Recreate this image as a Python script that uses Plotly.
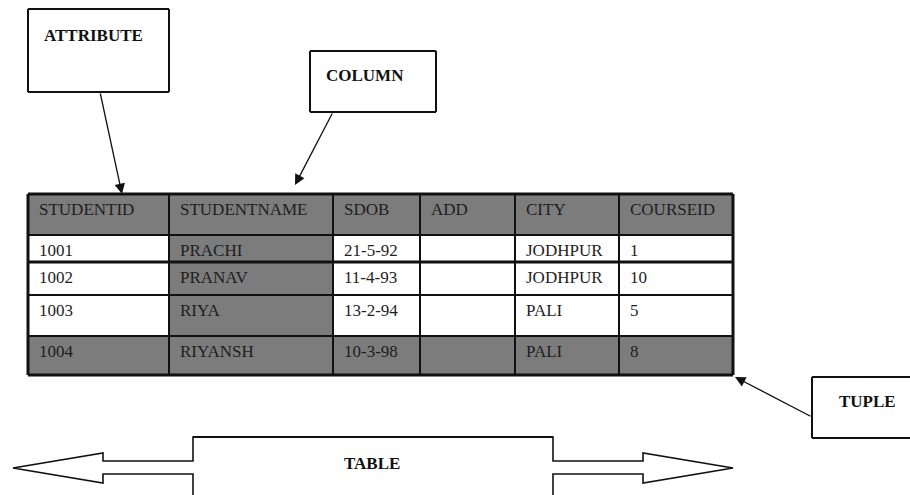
import plotly.graph_objects as go

# ---------------- data ----------------
headers = ["STUDENTID", "STUDENTNAME", "SDOB", "ADD", "CITY", "COURSEID"]
student_id = ["1001", "1002", "1003", "1004"]
student_name = ["PRACHI", "PRANAV", "RIYA", "RIYANSH"]
sdob = ["21-5-92", "11-4-93", "13-2-94", "10-3-98"]
add = ["", "", "", ""]
city = ["JODHPUR", "JODHPUR", "PALI", "PALI"]
course_id = ["1", "10", "5", "8"]
callout_labels = ["ATTRIBUTE", "COLUMN", "TUPLE"]
table_label = "TABLE"

# ---------------- layout geometry ----------------
W, H = 910, 495
col_edges = [28, 169, 333, 420, 515, 619, 733]
row_edges = [194, 235, 262, 295, 336, 375]
GRAY = "#7c7c7c"
TXT = "#1e1e1e"
FONT = "Liberation Serif, Times New Roman, serif"

columns = [student_id, student_name, sdob, add, city, course_id]
rows = [headers] + [[c[i] for c in columns] for i in range(len(student_id))]
n_rows = len(rows)
n_cols = len(headers)

def cell_fill(r, c):
    if r == 0 or r == n_rows - 1 or c == 1:
        return GRAY
    return "white"

fig = go.Figure()
# invisible trace to set up axes
fig.add_trace(go.Scatter(x=[W / 2], y=[H / 2], mode="markers",
                         marker=dict(opacity=0, size=1), hoverinfo="skip", showlegend=False))

shapes = []
annotations = []

def hline(x0, x1, y, w):
    shapes.append(dict(type="line", xref="x", yref="y", x0=x0, x1=x1, y0=y, y1=y,
                       line=dict(color="#111111", width=w)))

def vline(x, y0, y1, w):
    shapes.append(dict(type="line", xref="x", yref="y", x0=x, x1=x, y0=y0, y1=y1,
                       line=dict(color="#111111", width=w)))

# cells
for r in range(n_rows):
    for c in range(n_cols):
        shapes.append(dict(type="rect", xref="x", yref="y",
                           x0=col_edges[c], x1=col_edges[c + 1],
                           y0=row_edges[r], y1=row_edges[r + 1],
                           fillcolor=cell_fill(r, c), line=dict(width=0), layer="below"))
        txt = rows[r][c]
        if txt:
            annotations.append(dict(x=col_edges[c] + 9, y=row_edges[r] + 15,
                                    xref="x", yref="y", text=txt, showarrow=False,
                                    xanchor="left", yanchor="middle",
                                    font=dict(family=FONT, size=17, color=TXT)))
# grid lines
for i, y in enumerate(row_edges):
    hline(col_edges[0], col_edges[-1], y, 3 if i in (0, 2, len(row_edges) - 1) else 2)
for i, x in enumerate(col_edges):
    vline(x, row_edges[0], row_edges[-1], 3 if i in (0, len(col_edges) - 1) else 2)

# callout boxes (the TUPLE box runs off the right edge, so it is left open there)
boxes = [(28, 9, 169, 92), (310, 51, 436, 112), (812, 377, 910, 438)]
label_pos = [(42, 35), (324, 75), (837, 401)]
for (x0, y0, x1, y1), (tx, ty), lab in zip(boxes, label_pos, callout_labels):
    hline(x0, x1, y0, 2)
    hline(x0, x1, y1, 2)
    vline(x0, y0, y1, 2)
    if x1 < W:
        vline(x1, y0, y1, 2)
    annotations.append(dict(x=tx, y=ty, xref="x", yref="y", text="<b>" + lab + "</b>",
                            showarrow=False, xanchor="left", yanchor="middle",
                            font=dict(family=FONT, size=17, color="#111111")))

# pointer arrows (tail -> head)
arrows = [((100, 92), (122, 194)), ((333, 112), (295, 185)), ((812, 417), (735, 377))]
for (tx, ty), (hx, hy) in arrows:
    annotations.append(dict(x=hx, y=hy, ax=tx, ay=ty, xref="x", yref="y",
                            axref="x", ayref="y", text="", showarrow=True,
                            arrowhead=2, arrowsize=1.6, arrowwidth=1.3,
                            arrowcolor="#111111", standoff=0))

# TABLE double arrow outline
pts = [(193, 437), (553, 437), (553, 461), (643, 461), (643, 453), (733, 468),
       (643, 483), (643, 474), (553, 474), (553, 520), (193, 520), (193, 474),
       (103, 474), (103, 483), (13, 468), (103, 453), (103, 461), (193, 461)]
path = "M " + " L ".join(f"{x},{y}" for x, y in pts) + " Z"
shapes.append(dict(type="path", xref="x", yref="y", path=path, fillcolor="white",
                   line=dict(color="#111111", width=1.6)))
hline(193, 553, 437, 2.2)
annotations.append(dict(x=372, y=463, xref="x", yref="y", text="<b>" + table_label + "</b>",
                        showarrow=False, xanchor="center", yanchor="middle",
                        font=dict(family=FONT, size=17, color="#111111")))

fig.update_layout(
    width=W, height=H, margin=dict(l=0, r=0, t=0, b=0),
    paper_bgcolor="white", plot_bgcolor="white",
    xaxis=dict(range=[0, W], visible=False, fixedrange=True),
    yaxis=dict(range=[H, 0], visible=False, fixedrange=True),
    shapes=shapes, annotations=annotations, showlegend=False,
)
fig.write_html("out.html", config={"displayModeBar": False},
               post_script="document.body.style.margin='0';document.body.style.overflow='hidden';")
